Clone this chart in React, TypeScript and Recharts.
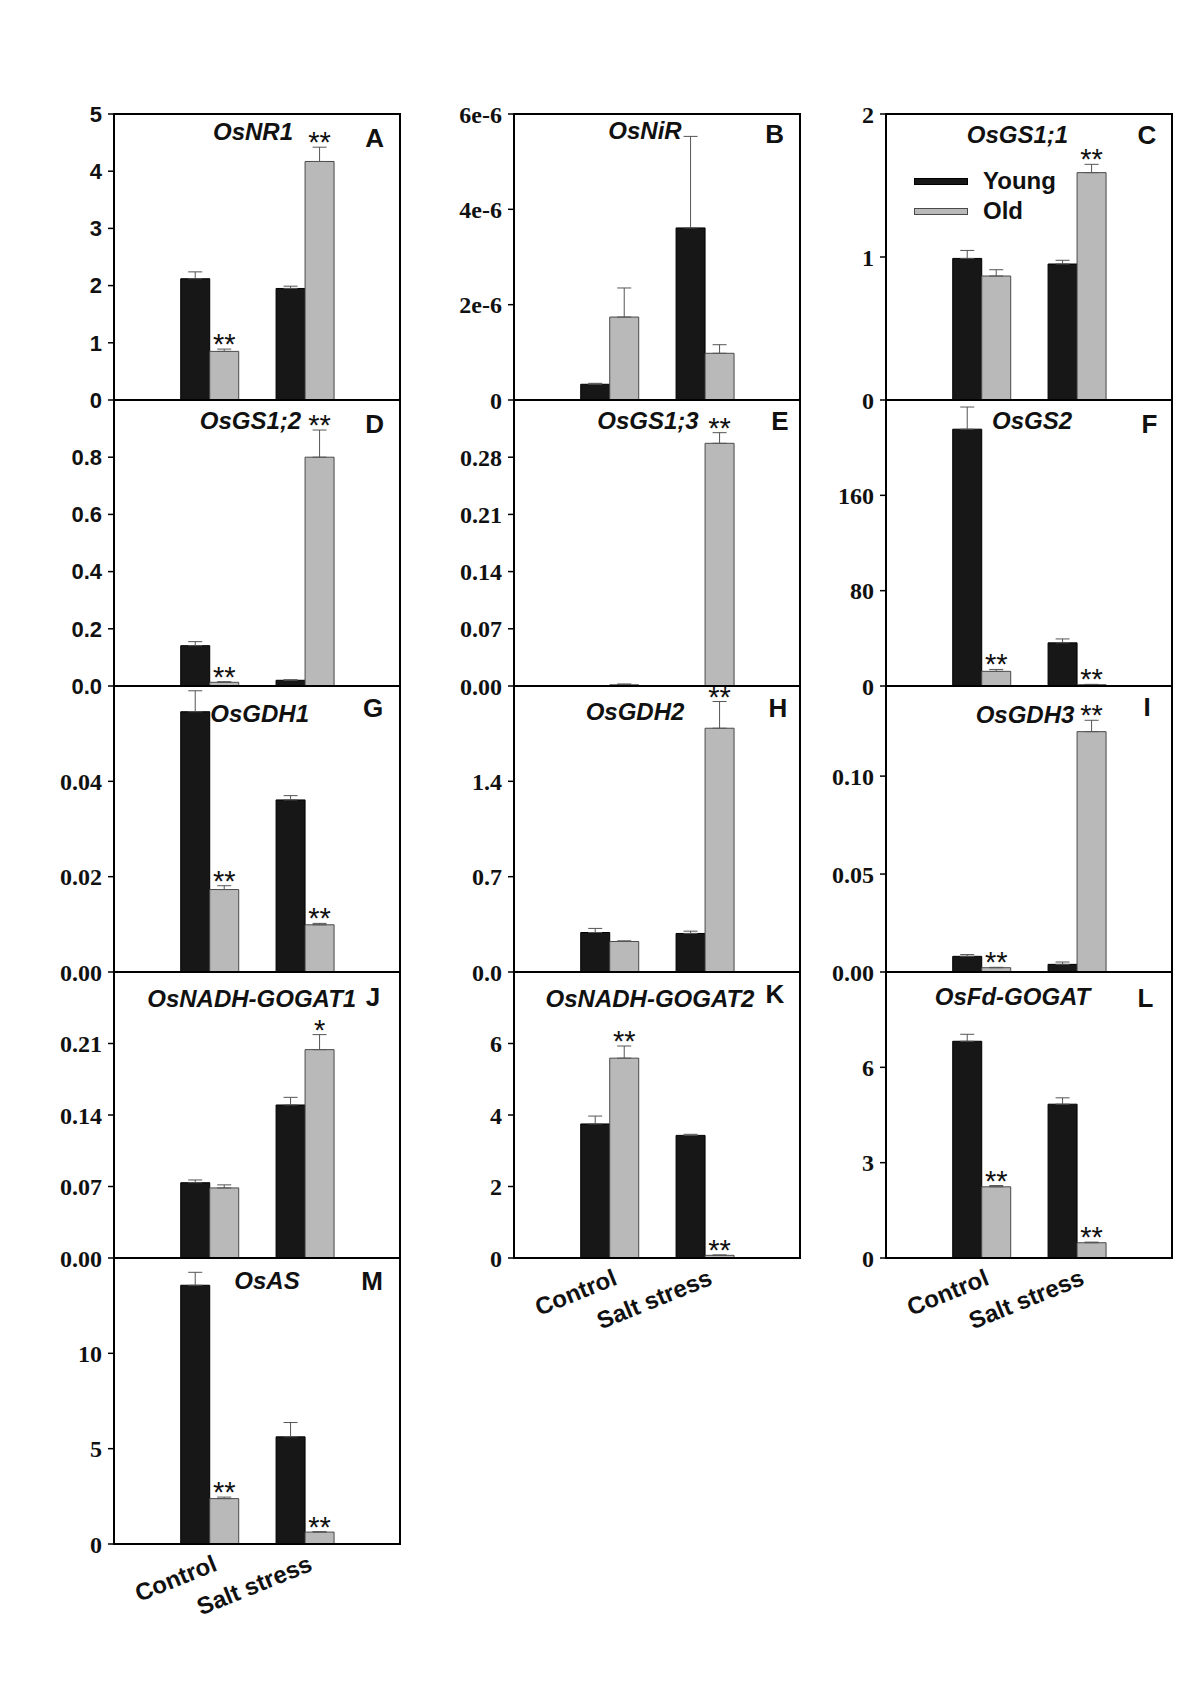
import { Bar, BarChart, ErrorBar, LabelList, Legend, XAxis, YAxis } from 'recharts';

const conditions = ['Control', 'Salt stress'];
const seriesNames = ['Young', 'Old'];
const genes = [
  'OsNR1', 'OsNiR', 'OsGS1;1', 'OsGS1;2', 'OsGS1;3', 'OsGS2', 'OsGDH1',
  'OsGDH2', 'OsGDH3', 'OsNADH-GOGAT1', 'OsNADH-GOGAT2', 'OsFd-GOGAT', 'OsAS',
];
const panelLetters = ['A', 'B', 'C', 'D', 'E', 'F', 'G', 'H', 'I', 'J', 'K', 'L', 'M'];

// relative expression (mean and SE)
const youngControl = [2.12, 0.33e-6, 0.99, 0.141, 0, 215.5, 0.0546, 0.29, 0.008, 0.0737, 3.75, 6.82, 13.57];
const youngControlSe = [0.12, 0.02e-6, 0.056, 0.014, 0, 18.6, 0.0044, 0.03, 0.0009, 0.0027, 0.22, 0.22, 0.68];
const youngSalt = [1.95, 3.61e-6, 0.951, 0.02, 0, 36.2, 0.0361, 0.283, 0.0039, 0.1498, 3.43, 4.84, 5.62];
const youngSaltSe = [0.04, 1.92e-6, 0.026, 0.002, 0, 3.3, 0.0009, 0.017, 0.0012, 0.0075, 0.03, 0.2, 0.75];
const oldControl = [0.85, 1.74e-6, 0.867, 0.013, 0.0015, 12.3, 0.0173, 0.224, 0.0022, 0.0686, 5.59, 2.24, 2.38];
const oldControlSe = [0.04, 0.61e-6, 0.044, 0.002, 0.001, 1.6, 0.0008, 0.005, 0.0002, 0.003, 0.34, 0.04, 0.08];
const oldSalt = [4.17, 0.98e-6, 1.59, 0.8, 0.297, 1.1, 0.0099, 1.79, 0.1227, 0.204, 0.075, 0.48, 0.625];
const oldSaltSe = [0.25, 0.18e-6, 0.058, 0.095, 0.013, 0.3, 0.0003, 0.196, 0.0058, 0.0147, 0.01, 0.02, 0.02];
const oldControlSig = ['**', '', '', '**', '', '**', '**', '', '**', '', '**', '**', '**'];
const oldSaltSig = ['**', '', '**', '**', '**', '**', '**', '**', '**', '*', '**', '**', '**'];

const yMax = [5, 6e-6, 2, 1, 0.35, 240, 0.06, 2.1, 0.146, 0.28, 8, 9, 15];
const yTicks = [
  [0, 1, 2, 3, 4, 5],
  [0, 2e-6, 4e-6, 6e-6],
  [0, 1, 2],
  [0, 0.2, 0.4, 0.6, 0.8],
  [0, 0.07, 0.14, 0.21, 0.28],
  [0, 80, 160],
  [0, 0.02, 0.04],
  [0, 0.7, 1.4],
  [0, 0.05, 0.1],
  [0, 0.07, 0.14, 0.21],
  [0, 2, 4, 6],
  [0, 3, 6],
  [0, 5, 10],
];
const yDecimals = [0, -1, 0, 1, 2, 0, 2, 1, 2, 2, 0, 0, 0]; // -1 => e-6 style

// layout
const COLS = [114, 514, 886];
const ROWS = [114, 400, 686, 972, 1258];
const PW = 286;
const PH = 286;
const YW = 80;
const MT = 14;
const titleX = [139, 131, 131.5, 136.5, 134, 146, 145.7, 121, 139, 137.7, 136, 126.5, 153];
const titleY = [26, 25.3, 29.3, 29.3, 29.3, 29.3, 36, 34.3, 37, 35.3, 34.7, 33, 31.3];
const letterX = [260.7, 260.7, 261, 260.7, 266, 263.5, 259, 264, 261, 259, 261, 259.5, 258];
const letterY = [33.3, 29.3, 30, 33.3, 30, 32.6, 31, 31, 30.3, 34, 31.3, 34.7, 32];

const SANS = 'Arial, "Liberation Sans", Helvetica, sans-serif';
const SERIF = '"Times New Roman", "Liberation Serif", Times, serif';
const YOUNG_FILL = '#171717';
const OLD_FILL = '#b9b9b9';
const OLD_STROKE = '#4a4a4a';
const ERR = '#555';

function tickFormatter(i: number) {
  return (v: number) => {
    const d = yDecimals[i];
    if (d < 0) return v === 0 ? '0' : `${Math.round(v * 1e6)}e-6`;
    return v.toFixed(d);
  };
}

function starLabel(vals: number[], errs: number[]) {
  return (p: any) => {
    const { value, index } = p;
    if (!value) return null;
    const vb = p.viewBox ?? p;
    const x = vb.x ?? p.x;
    const y = vb.y ?? p.y;
    const w = vb.width ?? p.width;
    const h = vb.height ?? p.height;
    const top = Math.min(y, y + h);
    const pxPer = vals[index] ? Math.abs(h) / vals[index] : 0;
    const errTop = top - errs[index] * pxPer;
    return (
      <text x={x + w / 2} y={errTop + 5} textAnchor="middle" fontFamily={SANS} fontSize={29} fill="#111">
        {value}
      </text>
    );
  };
}

function CondTick(props: any) {
  const { x, y, payload } = props;
  const ax = x + 9;
  const ay = y + 26;
  return (
    <text
      x={ax}
      y={ay}
      transform={`rotate(-22 ${ax} ${ay})`}
      textAnchor="end"
      fontFamily={SANS}
      fontWeight="bold"
      fontSize={24}
      fill="#111"
    >
      {payload.value}
    </text>
  );
}

function LegendBox(props: any) {
  const items = [...(props.payload ?? [])].sort(
    (a: any, b: any) => seriesNames.indexOf(a.value) - seriesNames.indexOf(b.value),
  );
  return (
    <div>
      {items.map((it: any) => (
        <div key={it.value} style={{ display: 'flex', alignItems: 'center', height: 30 }}>
          <span
            style={{
              display: 'inline-block',
              width: 54,
              height: 7,
              boxSizing: 'border-box',
              background: it.color,
              border: `1px solid ${it.value === seriesNames[0] ? '#000' : OLD_STROKE}`,
              marginRight: 15,
            }}
          />
          <span style={{ fontFamily: SANS, fontWeight: 'bold', fontSize: 24, color: '#111' }}>{it.value}</span>
        </div>
      ))}
    </div>
  );
}

function Panel({ i }: { i: number }) {
  const col = i % 3;
  const row = Math.floor(i / 3);
  const bottom = i >= 10;
  const youngVals = [youngControl[i], youngSalt[i]];
  const youngErrs = [youngControlSe[i], youngSaltSe[i]];
  const oldVals = [oldControl[i], oldSalt[i]];
  const oldErrs = [oldControlSe[i], oldSaltSe[i]];
  const oldSig = [oldControlSig[i], oldSaltSig[i]];
  const data = conditions.map((c, k) => ({
    cond: c,
    young: youngVals[k],
    youngErr: [0, youngErrs[k]],
    old: oldVals[k],
    oldErr: [0, oldErrs[k]],
    sig: oldSig[k],
  }));
  const serifTicks = i !== 0 && i !== 3;
  const xh = bottom ? 100 : 0;
  const mb = bottom ? 4 : MT;
  const axisLine = { stroke: '#000', strokeWidth: 2 };

  return (
    <div style={{ position: 'absolute', left: COLS[col] - YW, top: ROWS[row] - MT }}>
      <BarChart
        width={YW + PW + 4}
        height={MT + PH + xh + mb}
        data={data}
        margin={{ top: MT, right: 4, bottom: mb, left: 0 }}
        barCategoryGap="20%"
        barGap={0}
      >
        <XAxis
          dataKey="cond"
          padding={{ left: PW / 6, right: PW / 6 }}
          height={xh}
          tick={bottom ? <CondTick /> : false}
          tickLine={false}
          tickSize={0}
          tickMargin={0}
          interval={0}
          axisLine={axisLine}
        />
        <YAxis
          type="number"
          domain={[0, yMax[i]]}
          ticks={yTicks[i]}
          interval={0}
          width={YW}
          tickSize={6}
          tickMargin={6}
          tickLine={{ stroke: '#000', strokeWidth: 1.5 }}
          axisLine={axisLine}
          tickFormatter={tickFormatter(i)}
          tick={{
            fill: '#111',
            fontFamily: serifTicks ? SERIF : SANS,
            fontWeight: 'bold',
            fontSize: serifTicks ? 24 : 22,
          }}
        />
        <Bar dataKey="young" name={seriesNames[0]} fill={YOUNG_FILL} stroke="#000" strokeWidth={1} isAnimationActive={false}>
          <ErrorBar dataKey="youngErr" width={7} stroke={ERR} strokeWidth={1} direction="y" isAnimationActive={false} />
        </Bar>
        <Bar dataKey="old" name={seriesNames[1]} fill={OLD_FILL} stroke={OLD_STROKE} strokeWidth={1} isAnimationActive={false}>
          <ErrorBar dataKey="oldErr" width={7} stroke={ERR} strokeWidth={1} direction="y" isAnimationActive={false} />
          <LabelList dataKey="sig" content={starLabel(oldVals, oldErrs)} />
        </Bar>
        {i === 2 && (
          <Legend
            layout="vertical"
            verticalAlign="middle"
            align="center"
            content={<LegendBox />}
            wrapperStyle={{ left: 108, top: 66, width: 'auto' }}
          />
        )}
      </BarChart>
    </div>
  );
}

export default function App() {
  return (
    <div style={{ position: 'absolute', left: 0, top: 0, width: 1200, height: 1699, background: '#fff' }}>
      {genes.map((g, i) => (
        <Panel key={g} i={i} />
      ))}
      <svg width={1200} height={1699} style={{ position: 'absolute', left: 0, top: 0, pointerEvents: 'none' }}>
        {genes.map((g, i) => {
          const px = COLS[i % 3];
          const py = ROWS[Math.floor(i / 3)];
          return (
            <g key={g}>
              <rect x={px} y={py} width={PW} height={PH} fill="none" stroke="#000" strokeWidth={2} />
              <text
                x={px + titleX[i]}
                y={py + titleY[i]}
                textAnchor="middle"
                fontFamily={SANS}
                fontWeight="bold"
                fontStyle="italic"
                fontSize={24}
                fill="#111"
              >
                {g}
              </text>
              <text
                x={px + letterX[i]}
                y={py + letterY[i]}
                textAnchor="middle"
                fontFamily={SANS}
                fontWeight="bold"
                fontSize={26}
                fill="#111"
              >
                {panelLetters[i]}
              </text>
            </g>
          );
        })}
      </svg>
    </div>
  );
}
